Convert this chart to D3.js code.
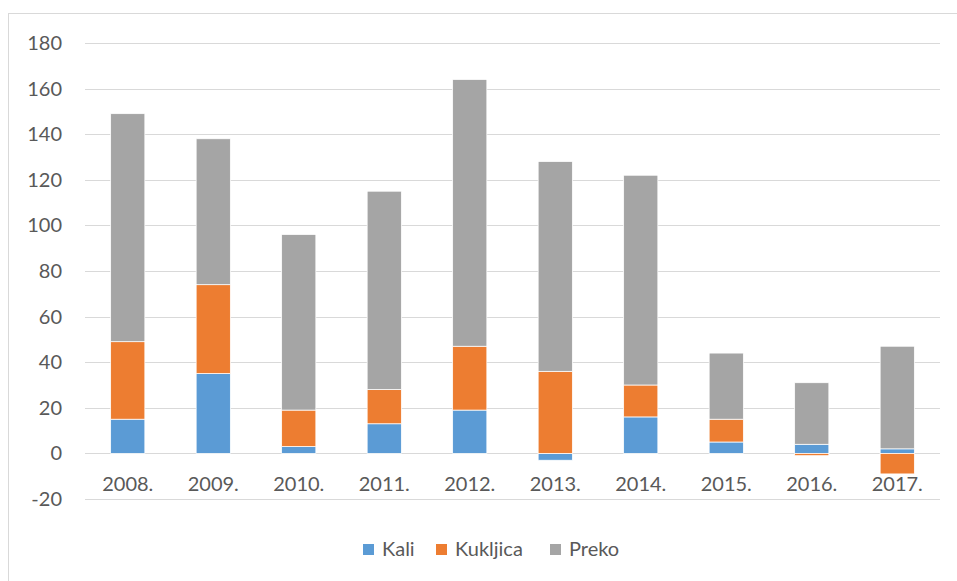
<!DOCTYPE html>
<html>
<head>
<meta charset="utf-8">
<script src="https://cdn.jsdelivr.net/npm/d3@7"></script>
<style>
  body { margin: 0; background: #fff; }
  svg { display: block; font-family: Lato, "Open Sans", sans-serif; }
</style>
</head>
<body>
<svg id="chart"></svg>
<script>
// categories and series
var years = ["2008.", "2009.", "2010.", "2011.", "2012.", "2013.", "2014.", "2015.", "2016.", "2017."];
var kali = [15, 35, 3, 13, 19, -3, 16, 5, 4, 2];
var kukljica = [34, 39, 16, 15, 28, 36, 14, 10, -1, -9];
var preko = [100, 64, 77, 87, 117, 92, 92, 29, 27, 45];
var yTicks = [-20, 0, 20, 40, 60, 80, 100, 120, 140, 160, 180];

var seriesNames = ["Kali", "Kukljica", "Preko"];
var seriesColors = ["#5b9bd5", "#ed7d31", "#a5a5a5"];

var width = 957, height = 581;
var plot = {left: 85, right: 940, top: 43, bottom: 499};

var svg = d3.select("#chart")
    .attr("width", width)
    .attr("height", height);

// chart border
svg.append("rect")
    .attr("x", 8.5).attr("y", 13.5)
    .attr("width", 960).attr("height", 600)
    .attr("fill", "none")
    .attr("stroke", "#d9d9d9")
    .attr("stroke-width", 1);

var x = d3.scaleBand()
    .domain(years)
    .range([plot.left, plot.right])
    .paddingInner(0.6)
    .paddingOuter(0.3);

var y = d3.scaleLinear()
    .domain([-20, 180])
    .range([plot.bottom, plot.top]);

// gridlines
svg.append("g")
    .selectAll("line")
    .data(yTicks)
    .enter()
    .append("line")
    .attr("x1", plot.left)
    .attr("x2", plot.right)
    .attr("y1", function(d) { return Math.round(y(d)) + 0.5; })
    .attr("y2", function(d) { return Math.round(y(d)) + 0.5; })
    .attr("stroke", "#d9d9d9")
    .attr("stroke-width", 1);

// y labels
svg.append("g")
    .selectAll("text")
    .data(yTicks)
    .enter()
    .append("text")
    .attr("x", 62)
    .attr("y", function(d) { return y(d); })
    .attr("dy", "0.35em")
    .attr("text-anchor", "end")
    .attr("font-size", "20px")
    .attr("fill", "#595959")
    .text(function(d) { return d; });

// stacked bars, positives stack up from zero, negatives down
var values = [kali, kukljica, preko];
var rects = [];
years.forEach(function(yr, i) {
    var pos = 0, neg = 0;
    values.forEach(function(arr, s) {
        var v = arr[i];
        if (v >= 0) {
            rects.push({year: yr, s: s, y0: pos, y1: pos + v});
            pos += v;
        } else {
            rects.push({year: yr, s: s, y0: neg + v, y1: neg});
            neg += v;
        }
    });
});

svg.append("g")
    .selectAll("rect")
    .data(rects)
    .enter()
    .append("rect")
    .attr("x", function(d) { return x(d.year); })
    .attr("width", x.bandwidth())
    .attr("y", function(d) { return y(d.y1); })
    .attr("height", function(d) { return y(d.y0) - y(d.y1); })
    .attr("fill", function(d) { return seriesColors[d.s]; })
    .attr("stroke", "#fff")
    .attr("stroke-width", 0.75);

// category labels, between zero and -20
svg.append("g")
    .selectAll("text")
    .data(years)
    .enter()
    .append("text")
    .attr("x", function(d) { return x(d) + x.bandwidth() / 2; })
    .attr("y", y(0) + 31)
    .attr("dy", "0.35em")
    .attr("text-anchor", "middle")
    .attr("font-size", "20px")
    .attr("fill", "#595959")
    .text(function(d) { return d; });

// legend
var legendX = [363, 436, 550];
var legend = svg.append("g")
    .selectAll("g")
    .data(seriesNames)
    .enter()
    .append("g")
    .attr("transform", function(d, i) { return "translate(" + legendX[i] + ",549)"; });

legend.append("rect")
    .attr("x", 0).attr("y", -5)
    .attr("width", 11).attr("height", 11)
    .attr("fill", function(d, i) { return seriesColors[i]; });

legend.append("text")
    .attr("x", 19)
    .attr("y", 0)
    .attr("dy", "0.35em")
    .attr("font-size", "20px")
    .attr("fill", "#595959")
    .text(function(d) { return d; });
</script>
</body>
</html>
